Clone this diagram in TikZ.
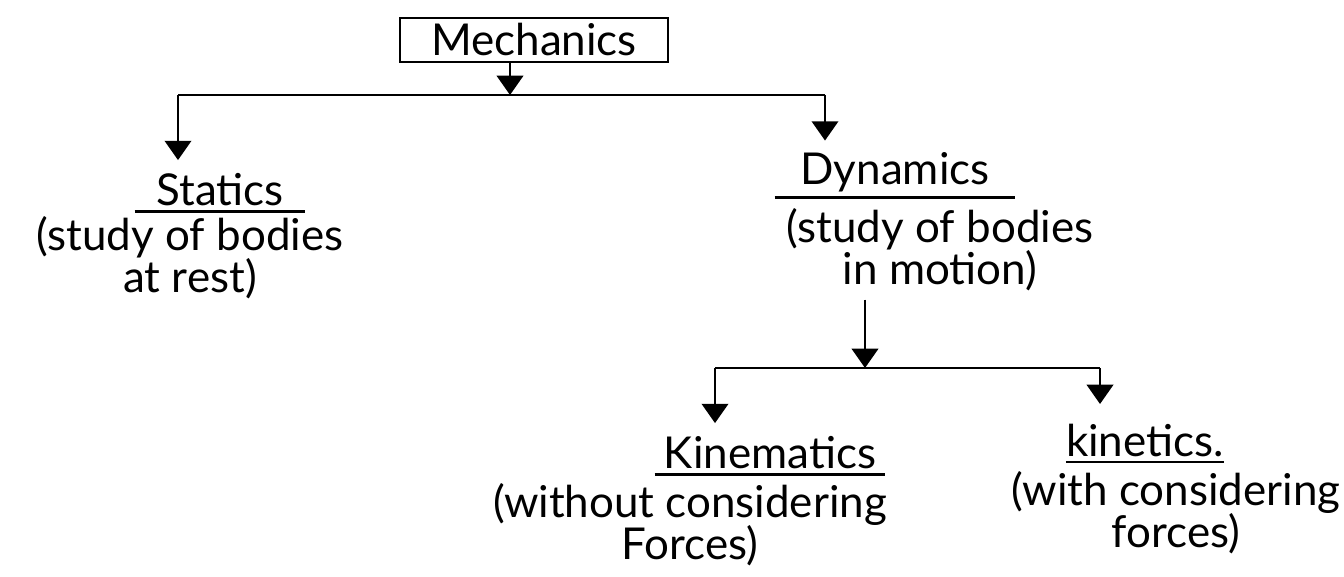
\documentclass[tikz,border=0pt]{standalone}
\usepackage{fontspec}
\setmainfont{Lato}
\usetikzlibrary{arrows.meta,calc}
\begin{document}
\begin{tikzpicture}[x=0.02cm,y=-0.02cm,
  txt/.style={font=\fontsize{25}{24}\selectfont, align=center, inner sep=0pt},
  ttl/.style={txt, inner ysep=3pt},
  arr/.style={-{Triangle[length=11pt,width=15pt]}, line width=1.6pt},
  ln/.style={line width=1.6pt},
  uline/.style={line width=1.6pt}]
\fill[white] (0,0) rectangle (1344,577);
\useasboundingbox (0,0) rectangle (1344,577);

% Root
\node[txt, draw, ln, minimum width=5.36cm, minimum height=0.88cm] (mech) at (534,40) {Mechanics};
\coordinate (j1) at (510,95);
\coordinate (jL) at (178,95);
\coordinate (jR) at (825,95);
\draw[arr] (mech.south -| j1) -- (j1);
\draw[ln] (jL) -- (jR);

% Statics
\node[ttl, minimum width=3.4cm] (statics) at (220,190) {Statics};
\draw[uline] (statics.south west) -- (statics.south east);
\node[txt] (staticsd) at (190,258) {(study of bodies\\at rest)};
\draw[arr] (jL) -- ($(jL |- statics.north)+(0,-8)$);

% Dynamics
\node[ttl, minimum width=4.8cm] (dyn) at (895,172) {Dynamics};
\draw[uline] (dyn.south west) -- (dyn.south east);
\node[txt] (dynd) at (940,250) {(study of bodies\\in motion)};
\draw[arr] (jR) -- ($(jR |- dyn.north)+(0,-6)$);

\coordinate (j2) at (865,368);
\coordinate (jL2) at (715,368);
\coordinate (jR2) at (1100,368);
\draw[arr] ($(dynd.south -| j2)+(0,8)$) -- (j2);
\draw[ln] (jL2) -- (jR2);

% Kinematics
\node[ttl, minimum width=4.6cm] (kinem) at (770,453) {Kinematics};
\draw[uline] (kinem.south west) -- (kinem.south east);
\node[txt] (kinemd) at (690,525) {(without considering\\Forces)};
\draw[arr] (jL2) -- ($(jL2 |- kinem.north)+(0,-8)$);

% Kinetics
\node[ttl, minimum width=2.6cm] (kinet) at (1145,440) {kinetics.};
\draw[uline] (kinet.south west) -- (kinet.south east);
\node[txt] (kinetd) at (1176,513) {(with considering\\forces)};
\draw[arr] (jR2) -- ($(jR2 |- kinet.north)+(0,-14)$);
\end{tikzpicture}
\end{document}
